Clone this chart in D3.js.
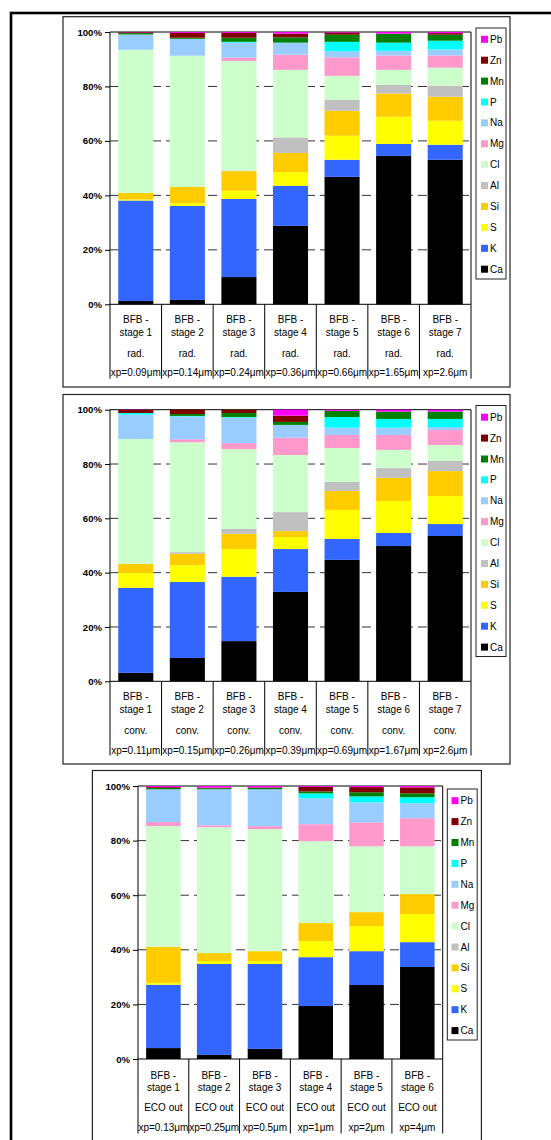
<!DOCTYPE html>
<html><head><meta charset="utf-8">
<script src="https://cdn.jsdelivr.net/npm/d3@7/dist/d3.min.js"></script>
<style>
body{margin:0;background:#fff;}
svg{display:block;font-family:Arial,"Liberation Sans",sans-serif;}
</style>
</head><body>
<svg id="chart" width="551" height="1140"></svg>
<script>
// ---------- data ----------
const elements = ["Ca","K","S","Si","Al","Cl","Mg","Na","P","Mn","Zn","Pb"];
const elementColors = ["#000000","#3366FF","#FFFF00","#FFCC00","#C0C0C0","#CCFFCC","#FF99CC","#99CCFF","#00FFFF","#008000","#800000","#FF00FF"];
const legendOrder = ["Pb","Zn","Mn","P","Na","Mg","Cl","Al","Si","S","K","Ca"];
const yTicks = [0,0.2,0.4,0.6,0.8,1];

const stages7 = ["stage 1","stage 2","stage 3","stage 4","stage 5","stage 6","stage 7"];
const stages6 = ["stage 1","stage 2","stage 3","stage 4","stage 5","stage 6"];

// panel 1: rad.
const radSizes = ["xp=0.09μm","xp=0.14μm","xp=0.24μm","xp=0.36μm","xp=0.66μm","xp=1.65μm","xp=2.6μm"];
// columns follow `elements`: Ca, K, S, Si, Al, Cl, Mg, Na, P, Mn, Zn, Pb
const radValues = [
  [1.2,36.9,0.4,2.4,0.0,52.6,0.0,5.6,0.0,0.5,0.3,0.1],
  [1.6,34.5,1.0,6.0,0.0,48.2,0.0,6.2,0.0,0.4,1.8,0.3],
  [10.0,28.7,3.0,7.2,0.2,40.3,1.2,5.5,0.3,1.5,1.8,0.3],
  [28.8,14.7,5.1,7.0,5.7,24.8,5.6,4.4,0.0,1.9,1.4,0.6],
  [46.8,6.3,8.8,9.2,4.0,8.8,6.8,2.2,3.5,2.6,0.8,0.2],
  [54.5,4.4,10.0,8.5,3.2,5.5,5.3,1.7,3.0,3.3,0.0,0.6],
  [53.1,5.5,8.8,8.8,4.1,6.6,4.5,2.2,3.2,2.2,0.6,0.4]
];

// panel 2: conv.
const convSizes = ["xp=0.11μm","xp=0.15μm","xp=0.26μm","xp=0.39μm","xp=0.69μm","xp=1.67μm","xp=2.6μm"];
const convValues = [
  [3.1,31.3,5.5,3.4,0.0,45.9,0.0,9.0,0.6,0.0,1.1,0.1],
  [8.6,28.0,6.2,4.2,0.6,40.5,1.1,8.4,0.2,0.7,1.6,0.0],
  [14.8,23.7,10.2,5.6,1.8,29.4,2.2,9.4,0.2,1.5,1.2,0.0],
  [32.9,15.8,4.4,2.2,7.0,21.0,6.4,4.7,0.0,1.1,2.3,2.2],
  [44.7,7.7,10.7,7.0,3.3,12.5,4.8,2.7,3.9,2.2,0.1,0.4],
  [49.8,4.8,11.8,8.5,3.6,6.7,5.5,2.7,3.2,2.7,0.0,0.7],
  [53.5,4.4,10.3,9.2,3.7,5.9,5.5,1.1,3.0,2.7,0.0,0.7]
];

// panel 3: ECO out
const ecoSizes = ["xp=0.13μm","xp=0.25μm","xp=0.5μm","xp=1μm","xp=2μm","xp=4μm"];
const ecoValues = [
  [4.0,23.2,0.7,13.2,0.0,44.2,1.5,12.0,0.0,0.5,0.3,0.4],
  [1.5,33.3,1.1,2.9,0.0,46.1,0.7,13.2,0.0,0.4,0.2,0.6],
  [3.7,31.1,1.1,3.6,0.0,44.7,1.1,13.5,0.0,0.5,0.2,0.5],
  [19.4,17.9,5.9,6.6,0.0,30.0,6.2,9.5,1.8,0.7,1.7,0.3],
  [27.1,12.4,9.2,5.1,0.0,24.1,8.8,7.3,2.2,1.5,1.9,0.4],
  [33.7,9.1,10.3,7.3,0.0,17.5,10.3,5.5,2.2,1.4,2.2,0.5]
];

// ---------- drawing ----------
const svg = d3.select("#chart");
const color = d3.scaleOrdinal(elements, elementColors);

// outer frame
svg.append("rect").attr("x",11).attr("y",13).attr("width",600).attr("height",1200)
  .attr("fill","none").attr("stroke","#000").attr("stroke-width",2.6);

function drawPanel(cfg){
  const g = svg.append("g");
  // panel box
  g.append("rect").attr("x",cfg.box[0]).attr("y",cfg.box[1])
    .attr("width",cfg.box[2]-cfg.box[0]).attr("height",cfg.box[3]-cfg.box[1])
    .attr("fill","#fff").attr("stroke","#222").attr("stroke-width",1.2);

  const n = cfg.values.length;
  const x = d3.scaleBand().domain(d3.range(n)).range([cfg.plot[0],cfg.plot[2]])
    .paddingInner(0.32).paddingOuter(0.16);
  const y = d3.scaleLinear().domain([0,1]).range([cfg.plot[3],cfg.plot[1]]);

  // gridlines
  g.append("g").selectAll("line").data(yTicks.filter(d=>d>0 && d<1)).join("line")
    .attr("x1",cfg.plot[0]).attr("x2",cfg.plot[2])
    .attr("y1",d=>y(d)).attr("y2",d=>y(d))
    .attr("stroke","#333").attr("stroke-width",1).attr("stroke-dasharray","9,5");

  // plot border (top/right)
  g.append("path")
    .attr("d",`M${cfg.plot[0]},${y(1)}H${cfg.plot[2]}V${y(0)}`)
    .attr("fill","none").attr("stroke","#000").attr("stroke-width",1);

  // stacked bars
  const rows = cfg.values.map((r,i)=>{const o={idx:i}; elements.forEach((e,j)=>o[e]=r[j]); return o;});
  const series = d3.stack().keys(elements).offset(d3.stackOffsetExpand)(rows);
  g.append("g").selectAll("g").data(series).join("g").attr("fill",s=>color(s.key))
    .selectAll("rect").data(s=>s).join("rect")
    .attr("x",d=>x(d.data.idx)).attr("width",x.bandwidth())
    .attr("y",d=>y(d[1])).attr("height",d=>Math.max(0,y(d[0])-y(d[1])));

  // y axis
  const ax = g.append("g").attr("transform",`translate(${cfg.plot[0]},0)`)
    .call(d3.axisLeft(y).tickValues(yTicks).tickFormat(d3.format(".0%")).tickSize(5).tickSizeOuter(0).tickPadding(3));
  ax.select(".domain").remove();
  ax.selectAll("line").attr("stroke","#000");
  ax.selectAll("text").attr("font-size","9.6px").attr("font-weight","bold")
    .attr("font-family","Arial, 'Liberation Sans', sans-serif").attr("fill","#000");

  // category axis: baseline and separators
  const step = x.step();
  g.append("line").attr("x1",cfg.plot[0]).attr("x2",cfg.plot[2]).attr("y1",y(0)).attr("y2",y(0))
    .attr("stroke","#000");
  g.append("line").attr("x1",cfg.plot[0]).attr("x2",cfg.plot[0]).attr("y1",y(1)).attr("y2",cfg.sepEnd)
    .attr("stroke","#000");
  g.append("g").selectAll("line").data(d3.range(1,n+1)).join("line")
    .attr("x1",i=>cfg.plot[0]+i*step).attr("x2",i=>cfg.plot[0]+i*step)
    .attr("y1",y(0)).attr("y2",cfg.sepEnd).attr("stroke","#000");

  // category labels
  const lab = g.append("g").attr("font-size","10px").attr("fill","#000").attr("text-anchor","middle");
  d3.range(n).forEach(i=>{
    const cx = x(i)+x.bandwidth()/2;
    const lines = ["BFB -", cfg.stages[i], cfg.kind, cfg.sizes[i]];
    lines.forEach((t,k)=>{
      lab.append("text").attr("x",cx).attr("y",cfg.labelY[k]).attr("dy","0.35em").text(t);
    });
  });

  // legend
  const L = cfg.legend;
  g.append("rect").attr("x",L.x0).attr("y",L.y0).attr("width",L.x1-L.x0).attr("height",L.y1-L.y0)
    .attr("fill","#fff").attr("stroke","#222").attr("stroke-width",1);
  const li = g.append("g").selectAll("g").data(legendOrder).join("g")
    .attr("transform",(d,i)=>`translate(${L.mx},${L.first+i*L.gap})`);
  li.append("rect").attr("x",0).attr("y",-3.5).attr("width",7).attr("height",7).attr("fill",d=>color(d));
  li.append("text").attr("x",9).attr("dy","0.35em").attr("font-size","10px").attr("fill","#000").text(d=>d);
}

drawPanel({
  box:[63,16.7,510,387], plot:[110,32,471,304.3], sepEnd:378.7,
  values:radValues, stages:stages7, sizes:radSizes, kind:"rad.",
  labelY:[319.3,332,353,372.7],
  legend:{x0:476,y0:28,x1:506,y1:279,mx:481,first:39.3,gap:20.9}
});
drawPanel({
  box:[63,394.5,510,764], plot:[110,409.7,471,681.3], sepEnd:755.5,
  values:convValues, stages:stages7, sizes:convSizes, kind:"conv.",
  labelY:[696.8,709.5,730.5,750.2],
  legend:{x0:476,y0:405.5,x1:506,y1:656.5,mx:481,first:417.2,gap:20.9}
});
drawPanel({
  box:[92.4,770.5,481.4,1160], plot:[138,786,442.7,1059], sepEnd:1133.5,
  values:ecoValues, stages:stages6, sizes:ecoSizes, kind:"ECO out",
  labelY:[1075,1087.5,1107.5,1127.7],
  legend:{x0:447.3,y0:789,x1:477.2,y1:1040,mx:451.5,first:800.7,gap:20.9}
});
</script>
</body></html>
